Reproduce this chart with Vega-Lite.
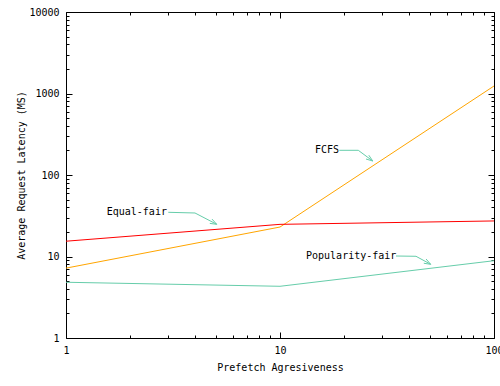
{
  "$schema": "https://vega.github.io/schema/vega-lite/v6.json",
  "autosize": {"type": "none"},
  "width": 428,
  "height": 326,
  "padding": {"left": 66, "top": 12, "right": 6, "bottom": 48},
  "background": "white",
  "view": {"stroke": "black", "strokeWidth": 1},
  "config": {
    "font": "DejaVu Sans Mono",
    "axis": {"labelFont": "DejaVu Sans Mono", "titleFont": "DejaVu Sans Mono", "labelFontSize": 10, "titleFontSize": 10, "titleFontWeight": "normal", "labelColor": "black", "titleColor": "black", "tickColor": "black", "grid": false, "domain": false, "labelOverlap": false, "labelFlush": false}
  },
  "data": {"values": [
    {"series": "FCFS", "x": 1, "y": 7.2},
    {"series": "FCFS", "x": 10, "y": 23},
    {"series": "FCFS", "x": 100, "y": 1236},
    {"series": "Equal-fair", "x": 1, "y": 15.4},
    {"series": "Equal-fair", "x": 10, "y": 24.8},
    {"series": "Equal-fair", "x": 100, "y": 27.3},
    {"series": "Popularity-fair", "x": 1, "y": 4.83},
    {"series": "Popularity-fair", "x": 10, "y": 4.31},
    {"series": "Popularity-fair", "x": 100, "y": 8.88}
  ]},
  "resolve": {"axis": {"x": "independent", "y": "independent"}},
  "layer": [
    {
      "mark": {"type": "line", "strokeWidth": 1},
      "encoding": {
        "x": {"field": "x", "type": "quantitative", "scale": {"type": "log", "domain": [1, 100], "nice": false},
              "axis": {"orient": "bottom", "values": [1, 10, 100], "format": "d", "ticks": false, "tickSize": 0, "labelPadding": 12, "labelBaseline": "middle", "title": "Prefetch Agresiveness", "titleX": 214, "titleY": 29, "titleBaseline": "middle", "titleAlign": "center"}},
        "y": {"field": "y", "type": "quantitative", "scale": {"type": "log", "domain": [1, 10000], "nice": false},
              "axis": {"orient": "left", "values": [1, 10, 100, 1000, 10000], "format": "d", "ticks": false, "tickSize": 0, "labelPadding": 7, "labelBaseline": "middle", "title": "Average Request Latency (MS)", "titleX": -45, "titleY": 163, "titleAngle": -90, "titleBaseline": "middle", "titleAlign": "center"}},
        "color": {"field": "series", "type": "nominal", "scale": {"domain": ["FCFS", "Equal-fair", "Popularity-fair"], "range": ["#FFA500", "#FF0000", "#66CDAA"]}, "legend": null}
      }
    },
    {
      "data": {"values": [
        {"seg": "fcfs_shaft", "ord": 0, "x": 18.93, "y": 200.9},
        {"seg": "fcfs_shaft", "ord": 1, "x": 23.22, "y": 200.9},
        {"seg": "fcfs_shaft", "ord": 2, "x": 27.12, "y": 148.5},
        {"seg": "fcfs_head", "ord": 0, "x": 26.0, "y": 175.0},
        {"seg": "fcfs_head", "ord": 1, "x": 27.12, "y": 148.5},
        {"seg": "fcfs_head", "ord": 2, "x": 25.23, "y": 157.1},
        {"seg": "eq_shaft", "ord": 0, "x": 3.006, "y": 34.85},
        {"seg": "eq_shaft", "ord": 1, "x": 4.007, "y": 34.18},
        {"seg": "eq_shaft", "ord": 2, "x": 5.061, "y": 24.84},
        {"seg": "eq_head", "ord": 0, "x": 4.812, "y": 28.77},
        {"seg": "eq_head", "ord": 1, "x": 5.061, "y": 24.84},
        {"seg": "eq_head", "ord": 2, "x": 4.699, "y": 25.48},
        {"seg": "pop_shaft", "ord": 0, "x": 34.84, "y": 10.14},
        {"seg": "pop_shaft", "ord": 1, "x": 43.21, "y": 10.06},
        {"seg": "pop_shaft", "ord": 2, "x": 50.61, "y": 8.02},
        {"seg": "pop_head", "ord": 0, "x": 48.16, "y": 9.305},
        {"seg": "pop_head", "ord": 1, "x": 50.61, "y": 8.02},
        {"seg": "pop_head", "ord": 2, "x": 46.99, "y": 8.264}
      ]},
      "mark": {"type": "line", "strokeWidth": 1, "color": "#66CDAA"},
      "encoding": {
        "x": {"field": "x", "type": "quantitative", "scale": {"type": "log", "domain": [1, 100], "nice": false}, "axis": null},
        "y": {"field": "y", "type": "quantitative", "scale": {"type": "log", "domain": [1, 10000], "nice": false}, "axis": null},
        "detail": {"field": "seg"},
        "order": {"field": "ord", "type": "quantitative"}
      }
    },
    {
      "data": {"values": [
        {"label": "FCFS", "x": 14.58, "y": 202.6},
        {"label": "Equal-fair", "x": 1.55, "y": 35.44},
        {"label": "Popularity-fair", "x": 13.23, "y": 10.23}
      ]},
      "mark": {"type": "text", "align": "left", "baseline": "middle", "font": "DejaVu Sans Mono", "fontSize": 10, "color": "black"},
      "encoding": {
        "x": {"field": "x", "type": "quantitative", "scale": {"type": "log", "domain": [1, 100], "nice": false}, "axis": null},
        "y": {"field": "y", "type": "quantitative", "scale": {"type": "log", "domain": [1, 10000], "nice": false}, "axis": null},
        "text": {"field": "label"}
      }
    },
    {
      "mark": {"type": "point", "opacity": 0},
      "encoding": {
        "x": {"field": "x", "type": "quantitative", "scale": {"type": "log", "domain": [1, 100], "nice": false},
              "axis": {"orient": "bottom", "values": [1, 10, 100], "labels": false, "ticks": true, "tickSize": -6, "title": null}},
        "y": {"field": "y", "type": "quantitative", "scale": {"type": "log", "domain": [1, 10000], "nice": false},
              "axis": {"orient": "left", "values": [1, 10, 100, 1000, 10000], "labels": false, "ticks": true, "tickSize": -6, "title": null}}
      }
    },
    {
      "mark": {"type": "point", "opacity": 0},
      "encoding": {
        "x": {"field": "x", "type": "quantitative", "scale": {"type": "log", "domain": [1, 100], "nice": false},
              "axis": {"orient": "bottom", "values": [2, 3, 4, 5, 6, 7, 8, 9, 20, 30, 40, 50, 60, 70, 80, 90], "labels": false, "ticks": true, "tickSize": -3, "title": null}},
        "y": {"field": "y", "type": "quantitative", "scale": {"type": "log", "domain": [1, 10000], "nice": false},
              "axis": {"orient": "left", "values": [2, 3, 4, 5, 6, 7, 8, 9, 20, 30, 40, 50, 60, 70, 80, 90, 200, 300, 400, 500, 600, 700, 800, 900, 2000, 3000, 4000, 5000, 6000, 7000, 8000, 9000], "labels": false, "ticks": true, "tickSize": -3, "title": null}}
      }
    },
    {
      "mark": {"type": "point", "opacity": 0},
      "encoding": {
        "x": {"field": "x", "type": "quantitative", "scale": {"type": "log", "domain": [1, 100], "nice": false},
              "axis": {"orient": "top", "values": [1, 10, 100], "labels": false, "ticks": true, "tickSize": -6, "title": null}},
        "y": {"field": "y", "type": "quantitative", "scale": {"type": "log", "domain": [1, 10000], "nice": false},
              "axis": {"orient": "right", "values": [1, 10, 100, 1000, 10000], "labels": false, "ticks": true, "tickSize": -6, "title": null}}
      }
    },
    {
      "mark": {"type": "point", "opacity": 0},
      "encoding": {
        "x": {"field": "x", "type": "quantitative", "scale": {"type": "log", "domain": [1, 100], "nice": false},
              "axis": {"orient": "top", "values": [2, 3, 4, 5, 6, 7, 8, 9, 20, 30, 40, 50, 60, 70, 80, 90], "labels": false, "ticks": true, "tickSize": -3, "title": null}},
        "y": {"field": "y", "type": "quantitative", "scale": {"type": "log", "domain": [1, 10000], "nice": false},
              "axis": {"orient": "right", "values": [2, 3, 4, 5, 6, 7, 8, 9, 20, 30, 40, 50, 60, 70, 80, 90, 200, 300, 400, 500, 600, 700, 800, 900, 2000, 3000, 4000, 5000, 6000, 7000, 8000, 9000], "labels": false, "ticks": true, "tickSize": -3, "title": null}}
      }
    }
  ]
}
